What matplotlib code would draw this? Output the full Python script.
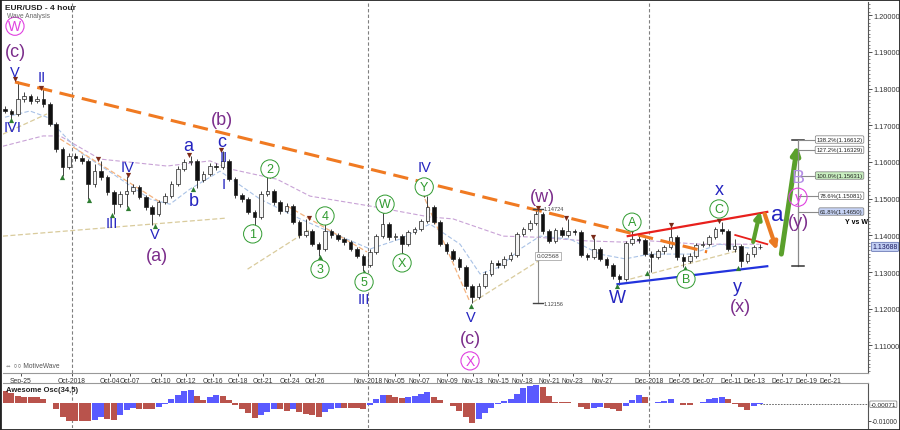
import numpy as np
import matplotlib
matplotlib.use("Agg")
import matplotlib.pyplot as plt
from matplotlib.patches import Rectangle

plt.rcParams['font.family'] = ['Liberation Sans', 'DejaVu Sans']

# --- price data (8h candles), x in trading days from Sep-25
first_open = 1.1744
closes = [1.1739, 1.1731, 1.1772, 1.1780, 1.1766, 1.1772, 1.1758, 1.1703, 1.1635, 1.1586,
          1.1616, 1.1611, 1.1603, 1.1540, 1.1575, 1.1559, 1.1518, 1.1485, 1.1513, 1.1521,
          1.1532, 1.1504, 1.1477, 1.1458, 1.1491, 1.1507, 1.1540, 1.1581, 1.1600, 1.1603,
          1.1551, 1.1567, 1.1589, 1.1586, 1.1603, 1.1554, 1.1510, 1.1499, 1.1464, 1.1450,
          1.1513, 1.1521, 1.1491, 1.1466, 1.1480, 1.1436, 1.1401, 1.1412, 1.1376, 1.1363,
          1.1412, 1.1401, 1.1390, 1.1382, 1.1363, 1.1344, 1.1319, 1.1355, 1.1398, 1.1431,
          1.1395, 1.1398, 1.1376, 1.1409, 1.1417, 1.1439, 1.1477, 1.1436, 1.1376, 1.1357,
          1.1336, 1.1314, 1.1262, 1.1232, 1.1262, 1.1295, 1.1325, 1.1319, 1.1336, 1.1346,
          1.1404, 1.1417, 1.1434, 1.1458, 1.1412, 1.1385, 1.1415, 1.1401, 1.1412, 1.1409,
          1.1346, 1.1341, 1.1363, 1.1336, 1.1319, 1.1289, 1.1281, 1.1379, 1.1390, 1.1387,
          1.1349, 1.1341, 1.1357, 1.1368, 1.1395, 1.1341, 1.1330, 1.1344, 1.1374, 1.1376,
          1.1395, 1.1417, 1.1412, 1.1363, 1.1371, 1.1330, 1.1349, 1.1368, 1.1369]
highs = [1.1752, 1.1745, 1.1821, 1.1790, 1.1786, 1.1781, 1.1799, 1.1764, 1.1708, 1.1641,
         1.1625, 1.1624, 1.1619, 1.1608, 1.1594, 1.1603, 1.1564, 1.1523, 1.1521, 1.1562,
         1.1540, 1.1537, 1.1510, 1.1484, 1.1497, 1.1515, 1.1547, 1.1589, 1.1608, 1.1616,
         1.1609, 1.1575, 1.1596, 1.1598, 1.1630, 1.1609, 1.1560, 1.1516, 1.1505, 1.1470,
         1.1520, 1.1559, 1.1527, 1.1497, 1.1488, 1.1486, 1.1442, 1.1445, 1.1418, 1.1382,
         1.1431, 1.1418, 1.1407, 1.1396, 1.1388, 1.1369, 1.1350, 1.1362, 1.1405, 1.1464,
         1.1437, 1.1406, 1.1404, 1.1415, 1.1424, 1.1446, 1.1507, 1.1484, 1.1442, 1.1383,
         1.1363, 1.1342, 1.1320, 1.1268, 1.1270, 1.1302, 1.1332, 1.1333, 1.1343, 1.1354,
         1.1410, 1.1424, 1.1441, 1.1472, 1.1464, 1.1418, 1.1421, 1.1422, 1.1445, 1.1418,
         1.1415, 1.1352, 1.1393, 1.1368, 1.1342, 1.1325, 1.1294, 1.1386, 1.1409, 1.1398,
         1.1393, 1.1357, 1.1364, 1.1375, 1.1425, 1.1400, 1.1348, 1.1351, 1.1380, 1.1384,
         1.1402, 1.1424, 1.1436, 1.1418, 1.1390, 1.1377, 1.1356, 1.1375, 1.1376]
lows = [1.1733, 1.1717, 1.1726, 1.1764, 1.1758, 1.1760, 1.1750, 1.1697, 1.1628, 1.1562,
        1.1580, 1.1602, 1.1594, 1.1499, 1.1533, 1.1551, 1.1510, 1.1458, 1.1478, 1.1477,
        1.1513, 1.1498, 1.1470, 1.1428, 1.1452, 1.1485, 1.1502, 1.1534, 1.1575, 1.1592,
        1.1529, 1.1545, 1.1561, 1.1579, 1.1580, 1.1548, 1.1503, 1.1490, 1.1457, 1.1428,
        1.1444, 1.1507, 1.1484, 1.1459, 1.1460, 1.1430, 1.1394, 1.1396, 1.1370, 1.1344,
        1.1358, 1.1394, 1.1384, 1.1375, 1.1357, 1.1338, 1.1303, 1.1313, 1.1349, 1.1392,
        1.1388, 1.1388, 1.1349, 1.1370, 1.1403, 1.1411, 1.1433, 1.1430, 1.1370, 1.1350,
        1.1330, 1.1307, 1.1255, 1.1216, 1.1226, 1.1256, 1.1289, 1.1310, 1.1312, 1.1330,
        1.1340, 1.1398, 1.1411, 1.1428, 1.1405, 1.1378, 1.1380, 1.1395, 1.1395, 1.1400,
        1.1340, 1.1334, 1.1336, 1.1330, 1.1312, 1.1282, 1.1265, 1.1276, 1.1373, 1.1380,
        1.1343, 1.1300, 1.1335, 1.1350, 1.1362, 1.1334, 1.1314, 1.1324, 1.1338, 1.1367,
        1.1370, 1.1389, 1.1405, 1.1357, 1.1356, 1.1314, 1.1324, 1.1342, 1.1362]

# Awesome Oscillator (34,5)
ao = [0.0068, 0.0056, 0.0040, 0.0034, 0.0034, 0.0034, 0.0023, 0.0000, -0.0034, -0.0079,
      -0.0102, -0.0102, -0.0102, -0.0102, -0.0096, -0.0079, -0.0090, -0.0096, -0.0068, -0.0040,
      -0.0028, -0.0034, -0.0034, -0.0034, -0.0023, -0.0006, 0.0023, 0.0045, 0.0068, 0.0073,
      0.0040, 0.0017, 0.0034, 0.0045, 0.0040, 0.0017, -0.0011, -0.0034, -0.0056, -0.0085,
      -0.0068, -0.0051, -0.0034, -0.0034, -0.0045, -0.0034, -0.0051, -0.0062, -0.0068, -0.0079,
      -0.0051, -0.0034, -0.0028, -0.0028, -0.0028, -0.0028, -0.0034, -0.0011, 0.0023, 0.0045,
      0.0045, 0.0034, 0.0028, 0.0034, 0.0040, 0.0051, 0.0062, 0.0034, 0.0017, 0.0000,
      -0.0017, -0.0045, -0.0079, -0.0113, -0.0090, -0.0056, -0.0028, -0.0006, 0.0011, 0.0023,
      0.0051, 0.0085, 0.0096, 0.0102, 0.0090, 0.0040, 0.0006, 0.0006, 0.0006, 0.0000,
      -0.0023, -0.0034, -0.0028, -0.0023, -0.0028, -0.0034, -0.0045, -0.0017, 0.0017, 0.0045,
      0.0034, 0.0000, 0.0006, 0.0011, 0.0023, 0.0000, -0.0011, -0.0011, 0.0000, 0.0006,
      0.0023, 0.0028, 0.0034, 0.0023, -0.0006, -0.0023, -0.0040, -0.0017, -0.0007]

tick_pos = [0.0, 3.98, 6.95, 8.52, 10.94, 12.89, 15.0, 16.95, 18.9, 21.0, 22.97, 27.1,
            29.2, 31.1, 33.3, 35.3, 37.27, 39.14, 41.25, 43.1, 45.4, 49.06, 51.4, 53.3,
            55.5, 57.3, 59.45, 61.33, 63.2]
tick_lbl = ["Sep-25", "Oct-2018", "Oct-04", "Oct-07", "Oct-10", "Oct-12", "Oct-16", "Oct-18",
            "Oct-21", "Oct-24", "Oct-26", "Nov-2018", "Nov-05", "Nov-07", "Nov-09", "Nov-13",
            "Nov-15", "Nov-18", "Nov-21", "Nov-23", "Nov-27", "Dec-2018", "Dec-05", "Dec-07",
            "Dec-11", "Dec-13", "Dec-17", "Dec-19", "Dec-21"]
month_lines = [3.98, 27.1, 49.06]

# wave labels (text, day, price)
roman_lbl = [("V", -0.47, 1.1845), ("II", 1.64, 1.1831), ("IVI", -0.63, 1.1695),
             ("III", 7.11, 1.1434), ("IV", 8.36, 1.1586), ("V", 10.47, 1.1404),
             ("II", 15.86, 1.1613), ("I", 15.86, 1.1540), ("III", 26.8, 1.1227),
             ("IV", 31.56, 1.1586), ("V", 35.16, 1.1178)]
minor_lbl = [("a", 13.1, 1.1646), ("b", 13.5, 1.1494), ("c", 15.7, 1.1657),
             ("W", 46.56, 1.1232), ("x", 54.53, 1.1526), ("y", 56.0, 1.1262)]
paren_lbl = [("(c)", -0.47, 1.1902), ("(a)", 10.63, 1.1344), ("(b)", 15.7, 1.1717),
             ("(w)", 40.7, 1.1507), ("(c)", 35.08, 1.1118), ("(x)", 56.17, 1.1205),
             ("(y)", 60.7, 1.1439)]
green_lbl = [("1", 18.1, 1.1404), ("2", 19.45, 1.1581), ("3", 23.36, 1.1308),
             ("4", 23.75, 1.1453), ("5", 26.8, 1.1273), ("W", 28.44, 1.1485),
             ("X", 29.77, 1.1325), ("Y", 31.5, 1.1532), ("A", 47.73, 1.1436),
             ("B", 51.95, 1.1281), ("C", 54.53, 1.1472)]
magenta_lbl = [("W", -0.47, 1.1970), ("X", 35.08, 1.1058), ("y", 60.7, 1.1504)]

high_marks_x = [-0.47, 1.56, 6.02, 8.36, 13.1, 15.6, 19.45, 22.5, 23.75, 28.36, 31.5,
                40.4, 42.6, 44.7, 47.7, 50.8, 54.5]
high_marks_y = [1.1826, 1.1801, 1.1608, 1.1564, 1.1619, 1.1633, 1.1562, 1.1448, 1.1434,
                1.1466, 1.1510, 1.1474, 1.1447, 1.1395, 1.1412, 1.1428, 1.1439]
low_marks_x = [-0.78, 3.2, 5.3, 7.1, 8.36, 10.47, 13.44, 18.1, 23.36, 26.8, 29.84, 35.16,
               46.56, 48.9, 51.9, 56.0]
low_marks_y = [1.1714, 1.1559, 1.1496, 1.1455, 1.1474, 1.1425, 1.1526, 1.1425, 1.1341,
               1.1300, 1.1346, 1.1207, 1.1262, 1.1297, 1.1311, 1.1311]

# faint indicator / guide lines
ma_slow_x = [-1.41, 1.72, 3.05, 6.17, 11.4, 14.77, 16.33, 20.0, 22.58, 27.27, 31.95,
             33.75, 37.66, 40.31, 44.2, 46.8, 49.14, 53.05, 57.7]
ma_slow_y = [1.1643, 1.1671, 1.1671, 1.1608, 1.1589, 1.1603, 1.1581, 1.1553, 1.1507,
             1.1480, 1.1450, 1.1445, 1.1398, 1.1395, 1.1385, 1.1382, 1.1385, 1.1376, 1.1376]
ma_fast_x = [-1.25, 0.7, 2.03, 4.6, 6.95, 10.08, 11.64, 13.2, 15.55, 18.67, 21.8, 24.9,
             27.27, 29.6, 31.95, 34.3, 35.86, 37.4, 39.0, 40.55, 42.9, 45.2, 47.2, 49.1,
             52.3, 54.6, 56.2, 57.7]
ma_fast_y = [1.1722, 1.1739, 1.1722, 1.1627, 1.1573, 1.1499, 1.1485, 1.1526, 1.1575,
             1.1499, 1.1445, 1.1398, 1.1363, 1.1390, 1.1431, 1.1376, 1.1295, 1.1314,
             1.1363, 1.1398, 1.1390, 1.1349, 1.1336, 1.1349, 1.1349, 1.1376, 1.1368, 1.1363]
tan_lines = [((-1.41, 16.0), (1.1398, 1.1447)), ((-1.41, 2.03), (1.1676, 1.1731)),
             ((17.7, 22.6), (1.1308, 1.1417)), ((35.3, 40.9), (1.1218, 1.1341)),
             ((47.6, 56.2), (1.1281, 1.1360))]
thin_orange = [((3.05, 10.86), (1.1663, 1.1491)), ((20.8, 27.03), (1.1480, 1.1355)),
               ((31.56, 35.08), (1.1499, 1.1218))]

# fib projection at right
fib_lvls = [1.16612, 1.16329, 1.15631, 1.15081, 1.14650]
fib_txt = ["138.2%(1.16612)", "127.2%(1.16329)", "100.0%(1.15631)",
           "78.6%(1.15081)", "61.8%(1.14650)"]
fib_fc = ["white", "white", "#c9efc0", "white", "#c6d3f5"]

fig = plt.figure(figsize=(9, 4.31), dpi=100)
ax = fig.add_axes([3 / 900, 1 - 374 / 431, 865 / 900, 371 / 431])
ax2 = fig.add_axes([3 / 900, 1 - 429 / 431, 865 / 900, 45 / 431])

n = len(closes)
xs = np.arange(n) * 0.5 - 1.25
opens = [first_open] + closes[:-1]

# candles
for x, o, h, l, c in zip(xs, opens, highs, lows, closes):
    ax.vlines(x, l, h, color='#222222', lw=0.6, zorder=3)
    up = c >= o
    ax.add_patch(Rectangle((x - 0.14, min(o, c)), 0.28, max(abs(c - o), 0.00012),
                           facecolor='#f4f4f4' if up else '#111111',
                           edgecolor='#222222', lw=0.5, zorder=4))

# faint guides
ax.plot(ma_slow_x, ma_slow_y, color='#c8a2d6', lw=0.8, ls=(0, (4, 2)), zorder=2)
ax.plot(ma_fast_x, ma_fast_y, color='#a9c2e6', lw=0.8, ls=(0, (4, 2)), zorder=2)
for lx, ly in tan_lines:
    ax.plot(lx, ly, color='#d9cb9c', lw=0.9, ls=(0, (4, 2)), zorder=2)
for lx, ly in thin_orange:
    ax.plot(lx, ly, color='#f3b27e', lw=0.9, ls=(0, (4, 2)), zorder=2)

# main trend line and channel
ax.plot([-0.47, 53.6], [1.1818, 1.1355], color='#f07a22', lw=2.2, ls=(0, (5, 2.5)), zorder=5)
ax.plot([47.4, 58.3], [1.1398, 1.1464], color='#e8201c', lw=1.6, zorder=5)
ax.plot([55.8, 58.3], [1.1401, 1.1376], color='#e8201c', lw=1.3, zorder=5)
ax.plot([46.6, 58.3], [1.1267, 1.1316], color='#2233dd', lw=1.6, zorder=5)

# arrows
arr = [((57.2, 1.1382), (57.75, 1.1466), '#5aa02c', 3.0, 10),
       ((58.1, 1.1458), (59.05, 1.1360), '#ea7a22', 3.0, 10),
       ((59.4, 1.1349), (60.65, 1.1645), '#5aa02c', 3.6, 12)]
for (x0, y0), (x1, y1), col, lw, ms in arr:
    ax.annotate('', xy=(x1, y1), xytext=(x0, y0),
                arrowprops=dict(arrowstyle='-|>', color=col, lw=lw, mutation_scale=ms,
                                shrinkA=0, shrinkB=0), zorder=6)

# month separators
for m in month_lines:
    ax.axvline(m, color='#808080', lw=0.8, ls=(0, (3, 2)), zorder=1)
    ax2.axvline(m, color='#808080', lw=0.8, ls=(0, (3, 2)), zorder=1)

# pivot markers
ax.scatter(high_marks_x, high_marks_y, marker='v', s=14, color='#7a2a18', zorder=7, lw=0)
ax.scatter(low_marks_x, low_marks_y, marker='^', s=14, color='#2e7d32', zorder=7, lw=0)

# measure tool in the middle
ax.plot([40.4, 40.4], [1.12156, 1.14724], color='#8a8a8a', lw=0.8, zorder=6)
for yy in (1.12156, 1.14724):
    ax.plot([40.0, 40.8], [yy, yy], color='#444444', lw=1.0, zorder=6)
ax.text(40.8, 1.14724, '1.14724', fontsize=4, color='#444444', va='center', zorder=8)
ax.text(40.8, 1.12156, '1.12156', fontsize=4, color='#444444', va='center', zorder=8)
ax.text(41.2, 1.1344, '0.02568', fontsize=4.5, color='#444444', ha='center', va='center',
        bbox=dict(boxstyle='square,pad=0.25', fc='white', ec='#999999', lw=0.5), zorder=8)

# fib projection
ax.plot([60.7, 60.7], [1.1316, 1.16612], color='#8a8a8a', lw=0.9, zorder=6)
for yy in (1.1316, 1.16612):
    ax.plot([60.25, 61.15], [yy, yy], color='#333333', lw=1.1, zorder=6)
for lv, t, fc in zip(fib_lvls, fib_txt, fib_fc):
    ax.plot([60.7, 62.4], [lv, lv], color='#8a8a8a', lw=0.8, zorder=6)
    ax.text(65.75, lv, t, fontsize=4.3, ha='right', va='center', color='#222222', zorder=8,
            bbox=dict(boxstyle='round,pad=0.2', fc=fc, ec='#777777', lw=0.5))
ax.text(65.3, 1.1439, 'Y vs W', fontsize=5, fontweight='bold', ha='center', va='center')

# wave labels
for t, x, y in roman_lbl:
    ax.text(x, y, t, color='#2424c0', fontsize=10.5, ha='center', va='center', zorder=9)
for t, x, y in minor_lbl:
    ax.text(x, y, t, color='#2424c0', fontsize=13, ha='center', va='center', zorder=9)
ax.text(59.06, 1.1458, 'a', color='#2424c0', fontsize=16, ha='center', va='center', zorder=9)
for t, x, y in paren_lbl:
    ax.text(x, y, t, color='#7b2d8b', fontsize=13, ha='center', va='center', zorder=9)
for t, x, y in green_lbl:
    ax.text(x, y, t, color='#2e9a2e', fontsize=9, ha='center', va='center', zorder=9,
            bbox=dict(boxstyle='circle,pad=0.25', fc='white', ec='#2e9a2e', lw=0.7))
for t, x, y in magenta_lbl:
    ax.text(x, y, t, color='#e040e0', fontsize=10, ha='center', va='center', zorder=9,
            bbox=dict(boxstyle='circle,pad=0.15', fc='none', ec='#e040e0', lw=0.8))
ax.text(60.7, 1.1559, 'B', color='#b48ee6', fontsize=14, ha='center', va='center', zorder=9)

# price axis
ax.set_xlim(-1.406, 66.17)
ax.set_ylim(1.1025, 1.2036)
ax.yaxis.tick_right()
ax.set_yticks([1.11, 1.12, 1.13, 1.14, 1.15, 1.16, 1.17, 1.18, 1.19, 1.20])
ax.set_yticklabels(['%.5f' % v for v in ax.get_yticks()])
ax.set_yticks(np.arange(1.103, 1.2035, 0.001), minor=True)
ax.tick_params(axis='y', which='major', labelsize=5.3, length=3, width=0.6, pad=1,
               colors='#333333')
ax.tick_params(axis='y', which='minor', length=1.5, width=0.5, colors='#555555')
ax.set_xticks(tick_pos)
ax.set_xticklabels(tick_lbl)
ax.tick_params(axis='x', labelsize=4.9, length=2, width=0.6, pad=0.8, colors='#333333')
for s in ('left', 'top'):
    ax.spines[s].set_visible(False)
ax.spines['bottom'].set_color('#999999')
ax.spines['right'].set_color('#555555')

ax.text(1.005, 1.13688, '1.13688', transform=ax.get_yaxis_transform(), fontsize=5,
        va='center', ha='left', color='#1a1a60', zorder=10, clip_on=False,
        bbox=dict(boxstyle='round,pad=0.15', fc='#c2cff3', ec='#5566aa', lw=0.5))

# oscillator
cols = ['#5a5aff' if i > 0 and ao[i] > ao[i - 1] else '#b9534c' for i in range(n)]
cols[0] = '#b9534c'
ax2.bar(xs, ao, width=0.46, color=cols, lw=0, zorder=3)
ax2.plot([xs[-1], 66.17], [ao[-1], ao[-1]], color='#555555', lw=0.6, ls=(0, (2, 1.5)))
ax2.set_xlim(-1.406, 66.17)
ax2.set_ylim(-0.0141, 0.0113)
ax2.yaxis.tick_right()
ax2.set_yticks([-0.01])
ax2.set_yticklabels(['-0.01000'])
ax2.set_xticks([])
ax2.tick_params(axis='y', labelsize=4.8, length=2, width=0.6, pad=0.8, colors='#333333')
for s in ('left', 'bottom'):
    ax2.spines[s].set_visible(False)
ax2.spines['top'].set_color('#999999')
ax2.spines['right'].set_color('#555555')
ax2.text(1.003, ao[-1], '-0.00071', transform=ax2.get_yaxis_transform(), fontsize=4.6,
         va='center', ha='left', color='#222222', clip_on=False,
         bbox=dict(boxstyle='round,pad=0.12', fc='white', ec='#777777', lw=0.5))
ax2.text(0.004, 0.86, 'Awesome Osc(34,5)', transform=ax2.transAxes, fontsize=5.5,
         fontweight='bold', va='center', color='#222222')

# header and footer texts
fig.text(5 / 900, 1 - 8 / 431, 'EUR/USD - 4 hour', fontsize=6, fontweight='bold',
         va='center', color='#222222')
fig.text(7 / 900, 1 - 17 / 431, 'Wave Analysis', fontsize=4.8, va='center', color='#666666')
fig.text(5 / 900, 1 - 366 / 431, '⇔ ○○ MotiveWave', fontsize=4.8, va='center',
         color='#555555')

# window frame
fig.patches.append(Rectangle((0, 0), 1, 1, transform=fig.transFigure, fill=False,
                             ec='#222222', lw=2.0))

fig.savefig('out.png', dpi=100, facecolor='white')
